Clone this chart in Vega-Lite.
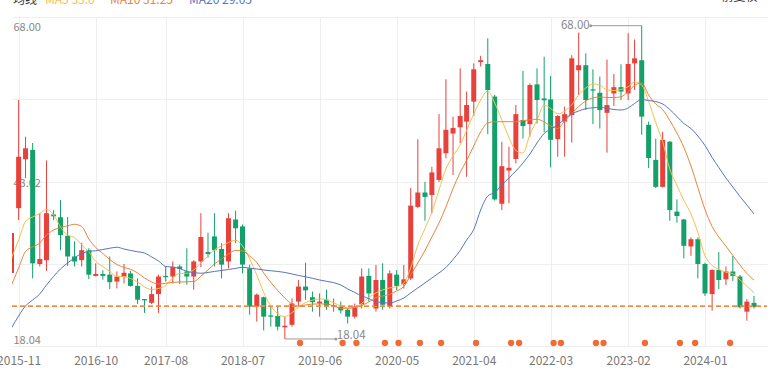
{
"$schema": "https://vega.github.io/schema/vega-lite/v6.json",
"width": 755, "height": 329,
"autosize": {"type": "none"},
"padding": {"left": 12, "top": 17, "right": 12, "bottom": 28},
"background": "#ffffff",
"config": {"font": "Noto Sans CJK SC", "view": {"stroke": null}},
"title": {"text": "前复权", "anchor": "end", "orient": "top", "fontSize": 12, "fontWeight": "normal", "color": "#333333", "dx": -10, "offset": -10},
"datasets": {
"k": [
{"date":"2015-10-01","open":28.57,"close":34.94,"high":35.3,"low":28.2,"ma5":30.96,"ma10":26.65,"ma20":19.80},
{"date":"2015-11-01","open":38.9,"close":47.1,"high":56.15,"low":37.0,"ma5":33.83,"ma10":29.37,"ma20":21.71},
{"date":"2015-12-01","open":46.7,"close":48.45,"high":50.3,"low":43.7,"ma5":36.78,"ma10":32.00,"ma20":23.31},
{"date":"2016-01-01","open":48.2,"close":30.1,"high":49.3,"low":27.7,"ma5":37.50,"ma10":32.71,"ma20":24.26},
{"date":"2016-02-01","open":30.0,"close":30.8,"high":38.1,"low":29.6,"ma5":38.06,"ma10":33.35,"ma20":25.22},
{"date":"2016-03-01","open":30.6,"close":38.1,"high":46.5,"low":28.9,"ma5":38.69,"ma10":34.63,"ma20":26.65},
{"date":"2016-04-01","open":37.9,"close":37.6,"high":38.6,"low":37.0,"ma5":37.82,"ma10":35.42,"ma20":28.01},
{"date":"2016-05-01","open":37.45,"close":34.6,"high":40.2,"low":32.2,"ma5":35.90,"ma10":35.82,"ma20":29.21},
{"date":"2016-06-01","open":34.5,"close":31.2,"high":37.5,"low":29.7,"ma5":34.60,"ma10":36.09,"ma20":30.16},
{"date":"2016-07-01","open":31.2,"close":30.4,"high":33.6,"low":29.6,"ma5":34.23,"ma10":36.33,"ma20":30.96},
{"date":"2016-08-01","open":30.6,"close":32.2,"high":33.4,"low":29.6,"ma5":33.03,"ma10":35.98,"ma20":31.68},
{"date":"2016-09-01","open":32.2,"close":28.3,"high":32.5,"low":27.6,"ma5":31.92,"ma10":33.99,"ma20":32.00},
{"date":"2016-10-01","open":28.1,"close":28.4,"high":30.1,"low":28.0,"ma5":30.40,"ma10":32.63,"ma20":32.11},
{"date":"2016-11-01","open":28.4,"close":28.1,"high":29.0,"low":27.5,"ma5":29.60,"ma10":31.68,"ma20":32.31},
{"date":"2016-12-01","open":28.3,"close":27.1,"high":31.2,"low":26.0,"ma5":28.81,"ma10":30.70,"ma20":32.51},
{"date":"2017-01-01","open":27.2,"close":28.0,"high":28.8,"low":26.1,"ma5":28.01,"ma10":29.92,"ma20":32.67},
{"date":"2017-02-01","open":28.0,"close":28.6,"high":30.0,"low":26.9,"ma5":27.98,"ma10":29.44,"ma20":32.39},
{"date":"2017-03-01","open":28.5,"close":26.5,"high":28.9,"low":26.4,"ma5":27.69,"ma10":29.16,"ma20":32.16},
{"date":"2017-04-01","open":26.5,"close":24.3,"high":27.7,"low":23.6,"ma5":27.13,"ma10":28.57,"ma20":31.95},
{"date":"2017-05-01","open":24.4,"close":24.2,"high":24.4,"low":22.2,"ma5":26.33,"ma10":27.77,"ma20":31.76},
{"date":"2017-06-01","open":23.8,"close":25.2,"high":26.4,"low":23.6,"ma5":25.94,"ma10":27.13,"ma20":31.12},
{"date":"2017-07-01","open":25.2,"close":28.0,"high":28.3,"low":22.2,"ma5":26.10,"ma10":26.81,"ma20":30.48},
{"date":"2017-08-01","open":28.1,"close":27.9,"high":29.6,"low":27.2,"ma5":26.57,"ma10":26.92,"ma20":29.60},
{"date":"2017-09-01","open":28.0,"close":29.5,"high":30.4,"low":26.9,"ma5":27.80,"ma10":27.07,"ma20":29.52},
{"date":"2017-10-01","open":29.6,"close":29.2,"high":29.9,"low":26.8,"ma5":28.49,"ma10":27.13,"ma20":29.29},
{"date":"2017-11-01","open":28.8,"close":28.0,"high":32.5,"low":26.7,"ma5":28.52,"ma10":27.16,"ma20":28.81},
{"date":"2017-12-01","open":28.0,"close":30.4,"high":30.6,"low":25.9,"ma5":29.05,"ma10":27.21,"ma20":28.65},
{"date":"2018-01-01","open":30.4,"close":34.3,"high":38.1,"low":29.5,"ma5":30.19,"ma10":28.04,"ma20":28.52},
{"date":"2018-02-01","open":31.9,"close":31.6,"high":35.0,"low":31.0,"ma5":31.28,"ma10":29.05,"ma20":28.65},
{"date":"2018-03-01","open":34.4,"close":32.2,"high":38.1,"low":29.6,"ma5":32.23,"ma10":30.00,"ma20":28.81},
{"date":"2018-04-01","open":32.4,"close":29.9,"high":33.3,"low":27.7,"ma5":32.90,"ma10":30.80,"ma20":28.97},
{"date":"2018-05-01","open":30.4,"close":37.3,"high":38.1,"low":29.3,"ma5":33.43,"ma10":31.60,"ma20":29.13},
{"date":"2018-06-01","open":37.1,"close":35.7,"high":38.5,"low":33.3,"ma5":33.78,"ma10":32.16,"ma20":29.29},
{"date":"2018-07-01","open":36.0,"close":29.9,"high":36.3,"low":28.5,"ma5":32.87,"ma10":32.08,"ma20":29.48},
{"date":"2018-08-01","open":29.3,"close":23.2,"high":29.9,"low":21.9,"ma5":30.80,"ma10":31.28,"ma20":29.33},
{"date":"2018-09-01","open":23.2,"close":25.1,"high":25.3,"low":20.8,"ma5":28.25,"ma10":30.24,"ma20":29.21},
{"date":"2018-10-01","open":24.7,"close":21.6,"high":24.8,"low":19.4,"ma5":25.46,"ma10":28.57,"ma20":29.05},
{"date":"2018-11-01","open":21.8,"close":21.6,"high":23.2,"low":20.0,"ma5":23.31,"ma10":27.05,"ma20":28.92},
{"date":"2018-12-01","open":21.7,"close":20.0,"high":23.2,"low":19.4,"ma5":22.09,"ma10":25.78,"ma20":28.81},
{"date":"2019-01-01","open":19.9,"close":20.15,"high":21.6,"low":18.04,"ma5":21.62,"ma10":24.58,"ma20":28.65},
{"date":"2019-02-01","open":20.3,"close":23.7,"high":24.5,"low":20.0,"ma5":22.24,"ma10":23.62,"ma20":28.41},
{"date":"2019-03-01","open":24.0,"close":26.4,"high":27.45,"low":23.2,"ma5":23.10,"ma10":23.31,"ma20":28.17},
{"date":"2019-04-01","open":26.4,"close":25.8,"high":30.2,"low":24.3,"ma5":23.85,"ma10":23.46,"ma20":27.96},
{"date":"2019-05-01","open":24.7,"close":23.9,"high":25.6,"low":22.4,"ma5":24.23,"ma10":23.61,"ma20":27.72},
{"date":"2019-06-01","open":23.7,"close":24.0,"high":25.3,"low":21.6,"ma5":24.44,"ma10":23.62,"ma20":27.45},
{"date":"2019-07-01","open":24.3,"close":23.3,"high":25.9,"low":22.7,"ma5":24.29,"ma10":23.62,"ma20":27.24},
{"date":"2019-08-01","open":23.2,"close":23.4,"high":24.5,"low":22.4,"ma5":23.82,"ma10":23.31,"ma20":27.02},
{"date":"2019-09-01","open":23.2,"close":22.6,"high":24.0,"low":22.1,"ma5":23.31,"ma10":22.94,"ma20":26.65},
{"date":"2019-10-01","open":22.7,"close":21.6,"high":22.9,"low":20.5,"ma5":23.02,"ma10":22.94,"ma20":26.02},
{"date":"2019-11-01","open":21.6,"close":23.2,"high":23.7,"low":21.3,"ma5":23.07,"ma10":23.07,"ma20":25.46},
{"date":"2019-12-01","open":23.6,"close":28.0,"high":29.3,"low":22.9,"ma5":23.72,"ma10":23.39,"ma20":24.90},
{"date":"2020-01-01","open":28.1,"close":25.3,"high":29.3,"low":24.0,"ma5":24.66,"ma10":23.94,"ma20":24.50},
{"date":"2020-02-01","open":22.9,"close":27.45,"high":29.85,"low":22.4,"ma5":25.38,"ma10":24.66,"ma20":23.94},
{"date":"2020-03-01","open":27.45,"close":23.5,"high":30.1,"low":22.7,"ma5":25.86,"ma10":24.90,"ma20":23.86},
{"date":"2020-04-01","open":23.2,"close":28.5,"high":29.0,"low":22.9,"ma5":26.18,"ma10":25.17,"ma20":23.75},
{"date":"2020-05-01","open":28.3,"close":26.5,"high":29.05,"low":25.85,"ma5":26.38,"ma10":25.70,"ma20":24.10},
{"date":"2020-06-01","open":26.8,"close":27.55,"high":29.85,"low":26.1,"ma5":26.97,"ma10":26.41,"ma20":24.58},
{"date":"2020-07-01","open":27.7,"close":39.3,"high":42.1,"low":27.45,"ma5":29.36,"ma10":28.25,"ma20":25.38},
{"date":"2020-08-01","open":39.1,"close":41.4,"high":49.9,"low":38.9,"ma5":33.03,"ma10":30.16,"ma20":26.18},
{"date":"2020-09-01","open":41.4,"close":40.7,"high":43.1,"low":36.9,"ma5":35.66,"ma10":32.16,"ma20":26.97},
{"date":"2020-10-01","open":41.0,"close":44.6,"high":45.5,"low":38.1,"ma5":38.29,"ma10":34.31,"ma20":27.77},
{"date":"2020-11-01","open":43.4,"close":48.45,"high":53.9,"low":43.1,"ma5":41.80,"ma10":36.54,"ma20":28.57},
{"date":"2020-12-01","open":47.65,"close":51.4,"high":59.45,"low":46.85,"ma5":45.15,"ma10":39.09,"ma20":29.44},
{"date":"2021-01-01","open":50.8,"close":51.7,"high":53.5,"low":44.2,"ma5":47.22,"ma10":42.04,"ma20":30.72},
{"date":"2021-02-01","open":51.8,"close":53.6,"high":61.2,"low":49.25,"ma5":48.98,"ma10":44.59,"ma20":32.16},
{"date":"2021-03-01","open":52.7,"close":55.35,"high":57.5,"low":43.9,"ma5":51.32,"ma10":46.51,"ma20":33.83},
{"date":"2021-04-01","open":55.9,"close":61.05,"high":62.0,"low":53.6,"ma5":53.92,"ma10":48.82,"ma20":35.50},
{"date":"2021-05-01","open":62.2,"close":62.5,"high":63.2,"low":61.5,"ma5":56.15,"ma10":51.05,"ma20":38.61},
{"date":"2021-06-01","open":61.9,"close":57.75,"high":66.0,"low":50.7,"ma5":57.59,"ma10":52.49,"ma20":40.85},
{"date":"2021-07-01","open":56.7,"close":40.3,"high":57.0,"low":40.1,"ma5":55.68,"ma10":52.69,"ma20":41.40},
{"date":"2021-08-01","open":39.6,"close":45.6,"high":49.5,"low":38.6,"ma5":52.96,"ma10":52.69,"ma20":42.60},
{"date":"2021-09-01","open":44.9,"close":45.35,"high":48.7,"low":39.7,"ma5":50.17,"ma10":52.69,"ma20":43.72},
{"date":"2021-10-01","open":46.75,"close":53.9,"high":55.35,"low":46.05,"ma5":48.10,"ma10":52.69,"ma20":44.83},
{"date":"2021-11-01","open":52.96,"close":52.0,"high":60.8,"low":50.0,"ma5":47.70,"ma10":52.85,"ma20":46.11},
{"date":"2021-12-01","open":52.3,"close":58.55,"high":58.8,"low":50.3,"ma5":50.65,"ma10":53.00,"ma20":47.54},
{"date":"2022-01-01","open":58.65,"close":56.15,"high":61.2,"low":52.4,"ma5":52.96,"ma10":53.08,"ma20":49.30},
{"date":"2022-02-01","open":56.4,"close":56.1,"high":63.05,"low":51.0,"ma5":55.36,"ma10":52.65,"ma20":50.81},
{"date":"2022-03-01","open":56.25,"close":49.8,"high":60.0,"low":45.4,"ma5":54.80,"ma10":52.01,"ma20":51.53},
{"date":"2022-04-01","open":49.9,"close":53.6,"high":53.75,"low":47.1,"ma5":53.95,"ma10":51.61,"ma20":52.17},
{"date":"2022-05-01","open":52.7,"close":53.9,"high":55.1,"low":47.1,"ma5":54.40,"ma10":52.81,"ma20":53.12},
{"date":"2022-06-01","open":53.75,"close":62.8,"high":63.3,"low":49.35,"ma5":55.40,"ma10":54.00,"ma20":53.92},
{"date":"2022-07-01","open":60.9,"close":61.7,"high":66.9,"low":57.0,"ma5":56.95,"ma10":55.12,"ma20":54.40},
{"date":"2022-08-01","open":61.7,"close":56.15,"high":63.6,"low":54.55,"ma5":58.07,"ma10":55.99,"ma20":54.77},
{"date":"2022-09-01","open":57.85,"close":57.65,"high":61.05,"low":52.3,"ma5":58.71,"ma10":56.50,"ma20":54.91},
{"date":"2022-10-01","open":57.3,"close":54.55,"high":59.9,"low":51.6,"ma5":58.55,"ma10":56.63,"ma20":54.99},
{"date":"2022-11-01","open":54.1,"close":55.35,"high":62.6,"low":47.75,"ma5":57.75,"ma10":56.55,"ma20":54.83},
{"date":"2022-12-01","open":57.2,"close":58.2,"high":60.3,"low":55.2,"ma5":57.67,"ma10":56.55,"ma20":54.64},
{"date":"2023-01-01","open":58.2,"close":57.5,"high":61.85,"low":56.15,"ma5":57.83,"ma10":56.66,"ma20":54.56},
{"date":"2023-02-01","open":57.2,"close":61.9,"high":66.8,"low":56.15,"ma5":58.26,"ma10":57.51,"ma20":54.88},
{"date":"2023-03-01","open":62.0,"close":62.8,"high":65.8,"low":57.75,"ma5":59.02,"ma10":58.47,"ma20":55.60},
{"date":"2023-04-01","open":62.5,"close":53.5,"high":68.0,"low":50.6,"ma5":58.55,"ma10":58.86,"ma20":56.23},
{"date":"2023-05-01","open":52.2,"close":46.9,"high":52.7,"low":45.3,"ma5":55.91,"ma10":56.95,"ma20":56.07},
{"date":"2023-06-01","open":46.6,"close":42.3,"high":50.0,"low":42.1,"ma5":52.57,"ma10":55.52,"ma20":55.91},
{"date":"2023-07-01","open":42.3,"close":49.8,"high":51.1,"low":42.2,"ma5":49.5,"ma10":54.64,"ma20":55.52},
{"date":"2023-08-01","open":49.5,"close":38.6,"high":49.6,"low":36.9,"ma5":45.15,"ma10":52.89,"ma20":54.64},
{"date":"2023-09-01","open":38.35,"close":37.65,"high":40.3,"low":36.6,"ma5":42.55,"ma10":50.89,"ma20":53.52},
{"date":"2023-10-01","open":37.1,"close":32.9,"high":37.2,"low":30.9,"ma5":40.16,"ma10":48.61,"ma20":52.41},
{"date":"2023-11-01","open":32.8,"close":33.95,"high":34.25,"low":31.3,"ma5":37.99,"ma10":45.63,"ma20":51.61},
{"date":"2023-12-01","open":33.95,"close":30.0,"high":34.25,"low":27.7,"ma5":35.03,"ma10":42.20,"ma20":50.41},
{"date":"2024-01-01","open":30.0,"close":25.3,"high":30.2,"low":24.9,"ma5":31.31,"ma10":38.69,"ma20":48.90},
{"date":"2024-02-01","open":25.2,"close":29.05,"high":29.15,"low":22.55,"ma5":29.76,"ma10":35.98,"ma20":46.99},
{"date":"2024-03-01","open":29.05,"close":27.45,"high":31.9,"low":26.0,"ma5":29.14,"ma10":34.31,"ma20":45.39},
{"date":"2024-04-01","open":27.55,"close":28.8,"high":29.6,"low":26.65,"ma5":28.69,"ma10":32.84,"ma20":43.72},
{"date":"2024-05-01","open":28.8,"close":28.1,"high":31.3,"low":27.3,"ma5":28.44,"ma10":31.36,"ma20":42.28},
{"date":"2024-06-01","open":28.0,"close":23.1,"high":28.25,"low":22.9,"ma5":27.48,"ma10":29.84,"ma20":40.77},
{"date":"2024-07-01","open":22.4,"close":24.0,"high":24.4,"low":20.95,"ma5":26.45,"ma10":28.49,"ma20":39.41},
{"date":"2024-08-01","open":23.8,"close":23.15,"high":24.9,"low":22.9,"ma5":25.41,"ma10":27.42,"ma20":37.98}
],
"events": [
{"date":"2019-03-08"},{"date":"2019-09-09"},{"date":"2019-11-08"},{"date":"2020-03-11"},{"date":"2020-05-09"},{"date":"2020-08-10"},{"date":"2020-11-10"},{"date":"2021-04-11"},{"date":"2021-09-10"},{"date":"2021-10-15"},{"date":"2022-03-14"},{"date":"2022-04-15"},{"date":"2022-09-14"},{"date":"2022-10-17"},{"date":"2023-04-15"},{"date":"2023-09-14"},{"date":"2023-11-19"},{"date":"2024-04-19"}
]
},
"data": {"name": "k"},
"encoding": {
  "x": {"field": "date", "type": "temporal",
    "scale": {"type": "utc", "padding": 0, "domain": [{"year":2015,"month":10,"date":3,"hours":4,"minutes":9,"utc":true},{"year":2024,"month":9,"date":26,"hours":12,"utc":true}]},
    "axis": {"title": null, "labelExpr": "utcFormat(datum.value, '%Y-%m')",
      "values": [{"year":2015,"month":11,"date":1,"utc":true},{"year":2016,"month":10,"date":1,"utc":true},{"year":2017,"month":8,"date":1,"utc":true},{"year":2018,"month":7,"date":1,"utc":true},{"year":2019,"month":6,"date":1,"utc":true},{"year":2020,"month":5,"date":1,"utc":true},{"year":2021,"month":4,"date":1,"utc":true},{"year":2022,"month":3,"date":1,"utc":true},{"year":2023,"month":2,"date":1,"utc":true},{"year":2024,"month":1,"date":1,"utc":true}],
      "grid": true, "gridColor": "#eeeeee", "gridWidth": 1, "domain": false, "ticks": false,
      "labelFlush": false, "labelOverlap": false, "labelBound": false,
      "labelPadding": 9, "labelFontSize": 12, "labelColor": "#777777"}}
},
"resolve": {"axis": {"y": "independent"}},
"layer": [
  {"mark": {"type": "rule", "strokeWidth": 1, "clip": true},
   "encoding": {
     "y": {"field": "low", "type": "quantitative", "scale": {"domain": [16.92, 69.39], "nice": false, "zero": false},
       "axis": {"orient": "right", "title": null, "values": [16.92, 30.04, 43.155, 56.27, 69.39], "labels": false, "ticks": false, "domain": false, "grid": true, "gridColor": "#eeeeee"}},
     "y2": {"field": "high"},
     "color": {"condition": {"test": "datum.close >= datum.open", "value": "#e8413b"}, "value": "#14a06a"}}},
  {"mark": {"type": "bar", "width": 5, "clip": true},
   "encoding": {
     "y": {"field": "open", "type": "quantitative", "scale": {"domain": [16.92, 69.39], "nice": false, "zero": false},
       "axis": {"orient": "left", "title": null, "values": [18.04, 43.02, 68], "format": ".2f", "grid": false, "ticks": false, "domain": false, "labelAlign": "left", "labelBaseline": "middle", "labelPadding": -1, "labelOffset": 1.5, "labelFontSize": 11, "labelColor": "#888888", "labelBound": false, "labelOverlap": false}},
     "y2": {"field": "close"},
     "color": {"condition": {"test": "datum.close >= datum.open", "value": "#e8413b"}, "value": "#14a06a"}}},
  {"transform": [{"fold": ["ma5", "ma10", "ma20"], "as": ["key", "val"]}],
   "mark": {"type": "line", "strokeWidth": 1, "clip": true, "interpolate": "monotone"},
   "encoding": {
     "y": {"field": "val", "type": "quantitative", "scale": {"domain": [16.92, 69.39], "nice": false, "zero": false}, "axis": null},
     "color": {"field": "key", "type": "nominal",
       "scale": {"domain": ["ma5", "ma10", "ma20"], "range": ["#f4bf4f", "#e8843a", "#5874c0"]},
       "legend": {"orient": "none", "legendX": 1, "legendY": -23, "direction": "horizontal", "title": "均线", "titleOrient": "left", "titleFontSize": 12, "titleFontWeight": "normal", "titleColor": "#333333", "titlePadding": -5,
         "labelExpr": "datum.value == 'ma5' ? 'MA5 33.0' : datum.value == 'ma10' ? 'MA10 31.25' : 'MA20 29.05'",
         "labelFontSize": 12, "labelColor": {"expr": "datum.value == 'ma5' ? '#f4bf4f' : datum.value == 'ma10' ? '#e8843a' : '#5874c0'"},
         "symbolSize": 0, "symbolOpacity": 0, "symbolStrokeWidth": 0, "labelOffset": 0, "columnPadding": 3}}}},
  {"mark": {"type": "rule", "strokeDash": [5, 3], "strokeWidth": 1, "color": "#ea8c45"},
   "encoding": {"x": {"value": 0}, "x2": {"value": 755}, "y": {"datum": 23.22, "type": "quantitative", "scale": {"domain": [16.92, 69.39], "nice": false, "zero": false}, "axis": null}}},
  {"data": {"name": "events"},
   "mark": {"type": "circle", "size": 40, "color": "#f06b36", "opacity": 1},
   "encoding": {"y": {"datum": 17.4, "type": "quantitative", "scale": {"domain": [16.92, 69.39], "nice": false, "zero": false}, "axis": null}}},
  {"transform": [{"joinaggregate": [{"op": "max", "field": "high", "as": "hmax"}]}, {"filter": "datum.high == datum.hmax"}],
   "layer": [
     {"mark": {"type": "rule", "color": "#999999", "strokeWidth": 1, "x2Offset": -51},
      "encoding": {"x2": {"field": "date"}, "y": {"field": "high", "type": "quantitative", "scale": {"domain": [16.92, 69.39], "nice": false, "zero": false}, "axis": null}}},
     {"mark": {"type": "circle", "color": "#999999", "size": 9, "xOffset": -51, "opacity": 1},
      "encoding": {"y": {"field": "high", "type": "quantitative", "axis": null}}},
     {"mark": {"type": "text", "align": "right", "baseline": "middle", "xOffset": -52, "fontSize": 11.5, "color": "#888888"},
      "encoding": {"y": {"field": "high", "type": "quantitative", "axis": null}, "text": {"field": "high", "type": "quantitative", "format": ".2f"}}}
   ]},
  {"transform": [{"joinaggregate": [{"op": "min", "field": "low", "as": "lmin"}]}, {"filter": "datum.low == datum.lmin"}],
   "layer": [
     {"mark": {"type": "rule", "color": "#999999", "strokeWidth": 1, "x2Offset": 51},
      "encoding": {"x2": {"field": "date"}, "y": {"field": "low", "type": "quantitative", "scale": {"domain": [16.92, 69.39], "nice": false, "zero": false}, "axis": null}}},
     {"mark": {"type": "circle", "color": "#999999", "size": 9, "xOffset": 51, "opacity": 1},
      "encoding": {"y": {"field": "low", "type": "quantitative", "axis": null}}},
     {"mark": {"type": "text", "align": "left", "baseline": "middle", "xOffset": 52, "yOffset": -2.5, "fontSize": 11.5, "color": "#888888"},
      "encoding": {"y": {"field": "low", "type": "quantitative", "axis": null}, "text": {"field": "low", "type": "quantitative", "format": ".2f"}}}
   ]}
]
}
